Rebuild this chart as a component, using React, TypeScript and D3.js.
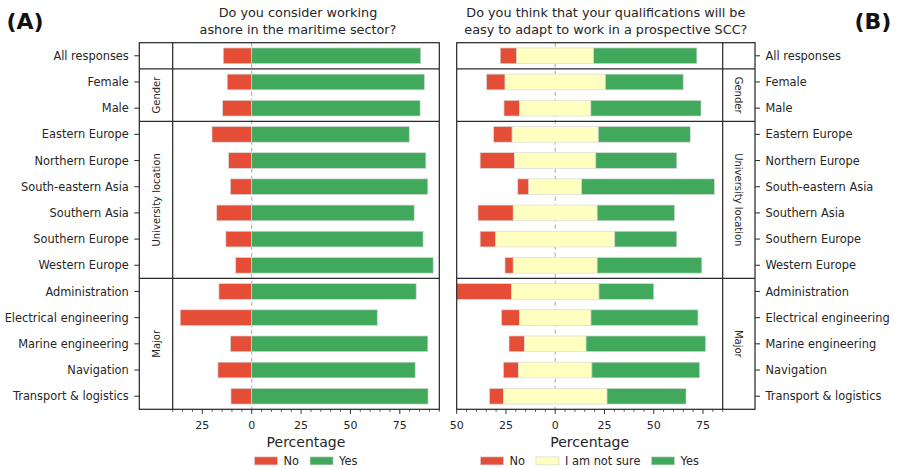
import React from "react";
import * as d3 from "d3";

// Row categories (top to bottom) and the groups they belong to
const rowLabels = [
  "All responses",
  "Female",
  "Male",
  "Eastern Europe",
  "Northern Europe",
  "South-eastern Asia",
  "Southern Asia",
  "Southern Europe",
  "Western Europe",
  "Administration",
  "Electrical engineering",
  "Marine engineering",
  "Navigation",
  "Transport & logistics",
];
const groupNames = ["", "Gender", "University location", "Major"];
const groupSizes = [1, 2, 6, 5];

// (A) Do you consider working ashore in the maritime sector? (percent)
const ashoreNo = [14.4, 12.4, 14.7, 20.1, 11.7, 10.8, 17.7, 13.1, 8.1, 16.6, 36.2, 10.7, 17.1, 10.5];
const ashoreYes = [85.6, 87.5, 85.3, 79.8, 88.2, 89.2, 82.3, 86.8, 91.9, 83.3, 63.6, 89.2, 82.8, 89.3];

// (B) Will your qualifications be easy to adapt to work in a prospective SCC? (percent)
const adaptNo = [8.4, 9.4, 7.9, 9.4, 17.5, 5.6, 17.9, 7.9, 4.2, 27.8, 9.1, 7.8, 7.7, 7.1];
const adaptUnsure = [39.0, 50.9, 36.2, 43.7, 41.2, 26.8, 42.6, 60.4, 42.6, 44.4, 36.3, 31.3, 37.2, 52.6];
const adaptYes = [52.4, 39.5, 55.9, 46.7, 41.1, 67.4, 39.3, 31.5, 53.1, 27.8, 54.3, 60.7, 54.7, 40.1];

const ticksA = [-25, 0, 25, 50, 75];
const ticksB = [-50, -25, 0, 25, 50, 75];

const RED = "#e54d37";
const YELLOW = "#ffffc0";
const GREEN = "#40a95c";
const FRAME = "#2b2b2b";
const FONT = "DejaVu Sans, sans-serif";

const W = 898;
const H = 469;
const TOP = 42.7;
const BOTTOM = 409.3;

const measure = (() => {
  let ctx: CanvasRenderingContext2D | null = null;
  return (text: string, size: number) => {
    if (!ctx) ctx = document.createElement("canvas").getContext("2d");
    if (!ctx) return text.length * size * 0.55;
    ctx.font = `${size}px DejaVu Sans`;
    return ctx.measureText(text).width;
  };
})();

type Seg = { key: string; color: string; x0: number; x1: number };

function Legend({ items, cx, y }: { items: { label: string; color: string }[]; cx: number; y: number }) {
  const patchW = 23;
  const textGap = 6;
  const itemGap = 11;
  const widths = items.map((d) => patchW + textGap + measure(d.label, 11.4));
  const total = d3.sum(widths) + itemGap * (items.length - 1);
  let x = cx - total / 2;
  return (
    <g>
      {items.map((d, i) => {
        const x0 = x;
        x += widths[i] + itemGap;
        return (
          <g key={d.label}>
            <rect x={x0} y={y - 8.3} width={patchW} height={8} fill={d.color} stroke="#d0d0d0" strokeWidth={0.6} />
            <text x={x0 + patchW + textGap} y={y} fontSize={11.4} fontFamily={FONT} fill="#262626">
              {d.label}
            </text>
          </g>
        );
      })}
    </g>
  );
}

function Panel({
  side,
  outer,
  dataL,
  dataR,
  domain,
  ticks,
  segments,
  title,
  legend,
}: {
  side: "left" | "right";
  outer: number;
  dataL: number;
  dataR: number;
  domain: [number, number];
  ticks: number[];
  segments: Seg[][];
  title: string[];
  legend: { label: string; color: string }[];
}) {
  const x = d3.scaleLinear().domain(domain).range([dataL, dataR]);
  const y = d3
    .scaleBand<string>()
    .domain(rowLabels)
    .range([TOP, BOTTOM])
    .paddingInner(0.4)
    .paddingOuter(0.2);
  const step = y.step();
  const boxL = side === "left" ? outer : dataL;
  const boxR = side === "left" ? dataR : outer;
  const groupL = side === "left" ? outer : dataR;
  const groupR = side === "left" ? dataL : outer;
  const minor = d3.range(domain[0], domain[1] + 0.01, 5).filter((v) => !ticks.includes(v));

  // cumulative row offsets for the group separators
  const starts: number[] = [];
  let acc = 0;
  groupSizes.forEach((s) => {
    starts.push(acc);
    acc += s;
  });

  const titleCx = side === "left" ? 298 : (boxL + boxR) / 2;
  const dataCx = (dataL + dataR) / 2;

  return (
    <g>
      {/* title */}
      {title.map((t, i) => (
        <text key={i} x={titleCx} y={17.3 + i * 16.2} textAnchor="middle" fontSize={12.8} fontFamily={FONT} fill="#262626">
          {t}
        </text>
      ))}

      {/* zero reference */}
      <line x1={x(0)} x2={x(0)} y1={TOP} y2={BOTTOM} stroke="#b5b5b5" strokeWidth={1.2} strokeDasharray="4,3" />

      {/* bars */}
      {segments.map((row, i) =>
        row.map((s) => (
          <rect
            key={rowLabels[i] + s.key}
            x={x(Math.min(s.x0, s.x1))}
            y={y(rowLabels[i])}
            width={Math.abs(x(s.x1) - x(s.x0))}
            height={y.bandwidth()}
            fill={s.color}
            stroke="#d9d9d9"
            strokeWidth={0.7}
          />
        ))
      )}

      {/* frames and group separators */}
      <rect x={boxL} y={TOP} width={boxR - boxL} height={BOTTOM - TOP} fill="none" stroke={FRAME} strokeWidth={1.25} />
      <line x1={side === "left" ? dataL : dataR} x2={side === "left" ? dataL : dataR} y1={TOP} y2={BOTTOM} stroke={FRAME} strokeWidth={1.25} />
      {starts.slice(1).map((s) => (
        <line key={s} x1={boxL} x2={boxR} y1={TOP + s * step} y2={TOP + s * step} stroke={FRAME} strokeWidth={1.25} />
      ))}

      {/* group labels */}
      {groupNames.map((g, gi) => {
        if (!g) return null;
        const cy = TOP + (starts[gi] + groupSizes[gi] / 2) * step;
        const cx = (groupL + groupR) / 2;
        const rot = side === "left" ? -90 : 90;
        return (
          <text
            key={g}
            transform={`translate(${cx},${cy}) rotate(${rot})`}
            textAnchor="middle"
            dy="0.36em"
            fontSize={10}
            fontFamily={FONT}
            fill="#262626"
          >
            {g}
          </text>
        );
      })}

      {/* category axis */}
      {rowLabels.map((r) => {
        const cy = (y(r) as number) + y.bandwidth() / 2;
        const dir = side === "left" ? -1 : 1;
        return (
          <g key={r}>
            <line x1={outer} x2={outer + dir * 5} y1={cy} y2={cy} stroke={FRAME} strokeWidth={1} />
            <text
              x={outer + dir * 10.5}
              y={cy}
              dy="0.36em"
              textAnchor={side === "left" ? "end" : "start"}
              fontSize={11.4}
              fontFamily={FONT}
              fill="#262626"
            >
              {r}
            </text>
          </g>
        );
      })}

      {/* percentage axis */}
      {ticks.map((t) => (
        <g key={t}>
          <line x1={x(t)} x2={x(t)} y1={BOTTOM} y2={BOTTOM + 4.5} stroke={FRAME} strokeWidth={1} />
          <text x={x(t)} y={428.6} textAnchor="middle" fontSize={11} fontFamily={FONT} fill="#262626">
            {Math.abs(t)}
          </text>
        </g>
      ))}
      {minor.map((t) => (
        <line key={"m" + t} x1={x(t)} x2={x(t)} y1={BOTTOM} y2={BOTTOM + 2.5} stroke={FRAME} strokeWidth={0.8} />
      ))}
      <text x={dataCx} y={446.5} textAnchor="middle" fontSize={14} fontFamily={FONT} fill="#262626">
        Percentage
      </text>

      <Legend items={legend} cx={dataCx} y={465.2} />
    </g>
  );
}

export default function App() {
  const segA: Seg[][] = rowLabels.map((_, i) => [
    { key: "no", color: RED, x0: -ashoreNo[i], x1: 0 },
    { key: "yes", color: GREEN, x0: 0, x1: ashoreYes[i] },
  ]);
  const segB: Seg[][] = rowLabels.map((_, i) => {
    const h = adaptUnsure[i] / 2;
    return [
      { key: "no", color: RED, x0: -h - adaptNo[i], x1: -h },
      { key: "unsure", color: YELLOW, x0: -h, x1: h },
      { key: "yes", color: GREEN, x0: h, x1: h + adaptYes[i] },
    ];
  });

  return (
    <svg width={W} height={H} style={{ position: "absolute", left: 0, top: 0, background: "#fff" }}>
      <rect width={W} height={H} fill="#fff" />
      <text x={6.5} y={28.6} fontSize={22} fontWeight="bold" fontFamily={FONT} fill="#111">
        (A)
      </text>
      <text x={854.5} y={28.6} fontSize={22} fontWeight="bold" fontFamily={FONT} fill="#111">
        (B)
      </text>
      <Panel
        side="left"
        outer={139.3}
        dataL={172.7}
        dataR={439.3}
        domain={[-40, 95]}
        ticks={ticksA}
        segments={segA}
        title={["Do you consider working", "ashore in the maritime sector?"]}
        legend={[
          { label: "No", color: RED },
          { label: "Yes", color: GREEN },
        ]}
      />
      <Panel
        side="right"
        outer={755}
        dataL={456.7}
        dataR={722.7}
        domain={[-50, 85]}
        ticks={ticksB}
        segments={segB}
        title={["Do you think that your qualifications will be", "easy to adapt to work in a prospective SCC?"]}
        legend={[
          { label: "No", color: RED },
          { label: "I am not sure", color: YELLOW },
          { label: "Yes", color: GREEN },
        ]}
      />
    </svg>
  );
}
